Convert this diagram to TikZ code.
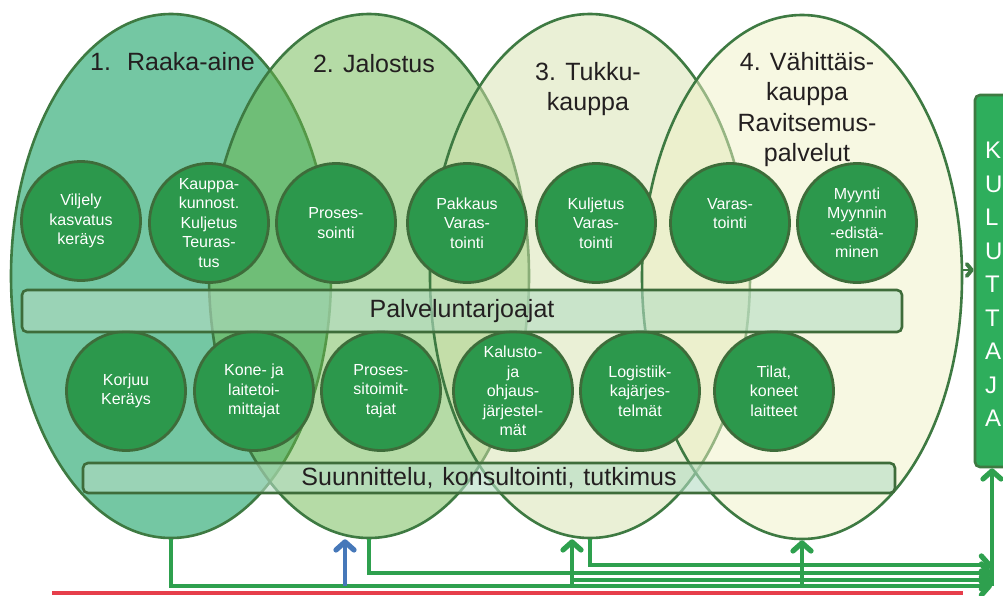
\documentclass[tikz,border=0pt]{standalone}
\usepackage{fontspec}
\setmainfont{Liberation Sans}
\usetikzlibrary{shapes.geometric,arrows.meta}

\definecolor{stageedge}{RGB}{62,122,66}
\definecolor{rawfill}{RGB}{116,199,163}
\definecolor{refinefill}{RGB}{107,183,77}
\definecolor{wholefill}{RGB}{213,225,173}
\definecolor{retailfill}{RGB}{239,241,197}
\definecolor{discgreen}{RGB}{44,152,76}
\definecolor{discedge}{RGB}{62,108,58}
\definecolor{bandfill}{RGB}{180,220,195}
\definecolor{consumergreen}{RGB}{46,174,92}
\definecolor{flowgreen}{RGB}{46,160,78}
\definecolor{flowblue}{RGB}{70,120,185}
\definecolor{flowred}{RGB}{230,62,75}
\definecolor{inkblack}{RGB}{35,31,32}

\begin{document}
\begin{tikzpicture}[x=1pt,y=-1pt,
    stage/.style={ellipse,draw=stageedge,line width=2.6,minimum width=320,minimum height=524,inner sep=0},
    stagetitle/.style={font=\fontsize{25}{30.5}\selectfont,text=inkblack,align=center,inner sep=0},
    disc/.style={circle,draw=discedge,line width=2.8,fill=discgreen,minimum size=119,inner sep=0,
                 text=white,align=center,font=\fontsize{16}{19.5}\selectfont},
    band/.style={rectangle,rounded corners=5,draw=discedge,line width=2.6,fill=bandfill,fill opacity=.6,
                 text opacity=1,inner sep=0,text=inkblack,font=\fontsize{25}{30}\selectfont},
    flow/.style={draw=flowgreen,line width=3.3,-{Straight Barb[length=8pt,width=18pt,line width=0pt 1.6,round]}}]
  \useasboundingbox (0,0) rectangle (1003,595);
  \clip (0,0) rectangle (1003,595);

  % the four stages of the chain
  \node[stage,fill=rawfill] (raw) at (171,276) {};
  \node[stage,fill=refinefill,fill opacity=.5] (refine) at (369,276) {};
  \node[stage,fill=wholefill,fill opacity=.5] (whole) at (590,276) {};
  \node[stage,fill=retailfill,fill opacity=.5] (retail) at (802,277) {};

  \node[stagetitle,anchor=base west] (t1) at (90,70) {1.\hspace{16pt}Raaka-aine};
  \node[stagetitle,anchor=base] (t2) at (374,72) {2. Jalostus};
  \node[stagetitle,anchor=north] (t3) at (588,62) {3. Tukku-\\kauppa};
  \node[stagetitle,anchor=north] (t4) at (807,52) {4. Vähittäis-\\kauppa\\Ravitsemus-\\palvelut};

  % upper row
  \node[disc] (viljely) at (81,221) {Viljely\\kasvatus\\keräys};
  \node[disc] (kauppa) at (209,223) {Kauppa-\\kunnost.\\Kuljetus\\Teuras-\\tus};
  \node[disc] (prosessointi) at (336,223) {Proses-\\sointi};
  \node[disc] (pakkaus) at (467,223) {Pakkaus\\Varas-\\tointi};
  \node[disc] (kuljetus) at (596,223) {Kuljetus\\Varas-\\tointi};
  \node[disc] (varastointi) at (730,223) {Varas-\\tointi\\\mbox{}};
  \node[disc] (myynti) at (857,223) {Myynti\\Myynnin\\-edistä-\\minen};

  % lower row
  \node[disc] (korjuu) at (126,391) {Korjuu\\Keräys};
  \node[disc] (konetoimittajat) at (254,391) {Kone- ja\\laitetoi-\\mittajat};
  \node[disc] (prosessitoimittajat) at (381,391) {Proses-\\sitoimit-\\tajat};
  \node[disc] (kalusto) at (513,391) {Kalusto-\\ja\\ohjaus-\\järjestel-\\mät};
  \node[disc] (logistiikka) at (640,391) {Logistiik-\\kajärjes-\\telmät};
  \node[disc] (tilat) at (774,391) {Tilat,\\koneet\\laitteet};

  \node[band,minimum width=880,minimum height=42] (palvelu) at (462,311) {Palveluntarjoajat};
  \node[band,minimum width=812,minimum height=30] (suunnittelu) at (489,478)
    {Suunnittelu,\hspace{9pt}konsultointi,\hspace{9pt}tutkimus};

  \node[rectangle,rounded corners=5,draw=stageedge,line width=2.6,fill=consumergreen,
        minimum width=46,minimum height=372,inner sep=0] (kuluttaja) at (998,281) {};
  \node[anchor=north west,inner sep=0,text=white,align=left,font=\fontsize{24}{33.5}\selectfont]
    (kuluttajateksti) at (985,142) {K\\U\\L\\U\\T\\T\\A\\J\\A};

  \coordinate (toconsumer) at (962,270);
  \draw[draw=stageedge,line width=2.8,-{Straight Barb[length=5pt,width=12pt,line width=0pt 1.4,round]}]
    (toconsumer) -- (toconsumer -| kuluttaja.west);

  % flows at the bottom
  \coordinate (in1) at (992,586);
  \coordinate (in2) at (992,573);
  \coordinate (in3) at (992,565);
  \coordinate (in4) at (992,580);
  \coordinate (tapblue) at (345,586);
  \coordinate (tapwhole) at (572,586);
  \coordinate (tapretail) at (802,586);
  \coordinate (redleft) at (52,593);
  \coordinate (redright) at (963,593);

  \draw[draw=flowred,line width=3.5] (redleft) -- (redright);
  \draw[flow] (raw.south) |- (in1);
  \draw[flow] (refine.south) |- (in2);
  \draw[flow] (whole.south) |- (in3);
  \draw[flow] (tapwhole |- in4) -- (in4);
  \draw[flow,draw=flowblue] (tapblue) -- (tapblue |- refine.south);
  \draw[flow] (tapwhole) -- (tapwhole |- whole.south);
  \draw[flow] (tapretail) -- (tapretail |- retail.south);
  \draw[flow] (in1) -- (in1 |- kuluttaja.south);
\end{tikzpicture}
\end{document}
